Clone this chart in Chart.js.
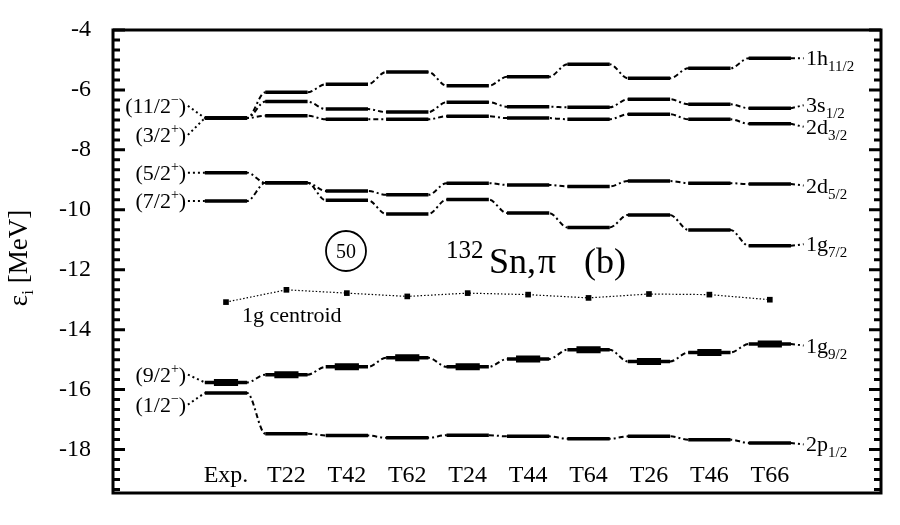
<!DOCTYPE html>
<html>
<head>
<meta charset="utf-8">
<script src="https://cdn.jsdelivr.net/npm/chart.js@4.4.0/dist/chart.umd.min.js"></script>
<style>
  body { margin: 0; background: #fff; }
  #wrap { width: 900px; height: 525px; }
</style>
</head>
<body>
<div id="wrap"><canvas id="levels"></canvas></div>
<script>
// single particle energies (MeV), one value per calculation
const categories = ['Exp.', 'T22', 'T42', 'T62', 'T24', 'T44', 'T64', 'T26', 'T46', 'T66'];
const h11 = [-6.94, -6.08, -5.81, -5.40, -5.86, -5.56, -5.14, -5.61, -5.28, -4.94];
const s1 = [-6.94, -6.39, -6.64, -6.74, -6.41, -6.56, -6.58, -6.31, -6.48, -6.61];
const d3 = [-6.94, -6.86, -6.98, -6.98, -6.88, -6.94, -6.98, -6.81, -6.98, -7.13];
const d5 = [-8.76, -9.10, -9.37, -9.50, -9.11, -9.17, -9.22, -9.04, -9.11, -9.14];
const g7 = [-9.71, -9.10, -9.68, -10.14, -9.66, -10.11, -10.59, -10.17, -10.67, -11.20];
const g9 = [-15.76, -15.50, -15.24, -14.94, -15.24, -14.98, -14.67, -15.06, -14.76, -14.48];
const p1 = [-16.11, -17.47, -17.53, -17.61, -17.52, -17.56, -17.64, -17.56, -17.67, -17.78];
const centroid = [-13.08, -12.67, -12.78, -12.89, -12.78, -12.83, -12.94, -12.81, -12.83, -13.00];
const yTicks = [-4, -6, -8, -10, -12, -14, -16, -18];

const serif = "'Liberation Serif', 'Times New Roman', serif";
const hw = 0.35;

// left (experimental) labels and right (orbital) labels
const leftLabels = [
  { t: '(11/2', s: '\u2212', v: h11[0], dy: 0.41 },
  { t: '(3/2', s: '+', v: d3[0], dy: -0.56 },
  { t: '(5/2', s: '+', v: d5[0], dy: 0 },
  { t: '(7/2', s: '+', v: g7[0], dy: 0 },
  { t: '(9/2', s: '+', v: g9[0], dy: 0.26 },
  { t: '(1/2', s: '\u2212', v: p1[0], dy: -0.39 }
];
const rightLabels = [
  { t: '1h', s: '11/2', vals: h11, dy: 0 },
  { t: '3s', s: '1/2', vals: s1, dy: 0.1 },
  { t: '2d', s: '3/2', vals: d3, dy: -0.1 },
  { t: '2d', s: '5/2', vals: d5, dy: -0.05 },
  { t: '1g', s: '7/2', vals: g7, dy: 0.05 },
  { t: '1g', s: '9/2', vals: g9, dy: -0.05 },
  { t: '2p', s: '1/2', vals: p1, dy: -0.05 }
];

function levelPts(vals, w) {
  const pts = [];
  vals.forEach((v, i) => {
    pts.push({ x: i - w, y: v }, { x: i + w, y: v }, { x: i + 0.5, y: null });
  });
  return pts;
}
function linkPts(vals) {
  const pts = [];
  vals.forEach((v, i) => { pts.push({ x: i - hw, y: v }, { x: i + hw, y: v }); });
  return pts;
}

const datasets = [];
[h11, s1, d3, d5, g7, g9, p1].forEach(vals => {
  datasets.push({
    data: linkPts(vals), borderColor: '#000', borderWidth: 2,
    borderDash: [5, 3, 2, 3], cubicInterpolationMode: 'monotone', pointRadius: 0
  });
  datasets.push({
    data: levelPts(vals, hw), borderColor: '#000', borderWidth: 3.5,
    spanGaps: false, pointRadius: 0, borderCapStyle: 'butt'
  });
});
// 1g9/2 drawn thicker in the middle
datasets.push({ data: levelPts(g9, 0.2), borderColor: '#000', borderWidth: 7, spanGaps: false, pointRadius: 0 });
// label connectors
leftLabels.forEach(l => {
  datasets.push({
    data: [{ x: -0.63, y: l.v + l.dy }, { x: -hw, y: l.v }],
    borderColor: '#000', borderWidth: 2, borderDash: [2, 3], pointRadius: 0
  });
});
rightLabels.forEach(l => {
  const last = l.vals[l.vals.length - 1];
  datasets.push({
    data: [{ x: 9 + hw, y: last }, { x: 9.56, y: last + l.dy }],
    borderColor: '#000', borderWidth: 2, borderDash: [4, 3, 2, 3], pointRadius: 0
  });
});
datasets.push({
  data: centroid.map((v, i) => ({ x: i, y: v })),
  borderColor: '#000', borderWidth: 1.2, borderDash: [1.5, 2],
  pointStyle: 'rect', pointRadius: 4, pointBackgroundColor: '#000', pointBorderWidth: 0
});

function rich(ctx, x, y, parts) {
  let cx = x;
  parts.forEach(p => {
    ctx.font = p[1] + 'px ' + serif;
    ctx.fillText(p[0], cx, y + (p[2] || 0));
    cx += ctx.measureText(p[0]).width;
  });
  return cx - x;
}
function richWidth(ctx, parts) {
  let w = 0;
  parts.forEach(p => { ctx.font = p[1] + 'px ' + serif; w += ctx.measureText(p[0]).width; });
  return w;
}

const decor = {
  id: 'decor',
  afterDraw(chart) {
    const ctx = chart.ctx, a = chart.chartArea;
    const xs = chart.scales.x, ys = chart.scales.y;
    ctx.save();
    ctx.strokeStyle = '#000';
    ctx.fillStyle = '#000';
    // frame
    ctx.lineWidth = 3;
    ctx.strokeRect(a.left, a.top, a.right - a.left, a.bottom - a.top);
    // inward ticks on both sides
    for (let k = 0; k <= 46; k++) {
      const v = -4 - k / 3;
      const py = ys.getPixelForValue(v);
      if (py > a.bottom - 1) break;
      const major = k % 6 === 0;
      const len = major ? 12 : 7;
      ctx.beginPath();
      ctx.moveTo(a.left, py); ctx.lineTo(a.left + len, py);
      ctx.moveTo(a.right, py); ctx.lineTo(a.right - len, py);
      ctx.stroke();
    }
    // category labels
    ctx.textBaseline = 'alphabetic';
    ctx.textAlign = 'center';
    ctx.font = '24px ' + serif;
    categories.forEach((c, i) => ctx.fillText(c, xs.getPixelForValue(i), 482));
    ctx.textAlign = 'left';
    // left labels
    leftLabels.forEach(l => {
      const parts = [[l.t, 22], [l.s, 14, -9], [')', 22]];
      const w = richWidth(ctx, parts);
      rich(ctx, xs.getPixelForValue(-0.66) - w, ys.getPixelForValue(l.v + l.dy) + 7, parts);
    });
    // right labels
    rightLabels.forEach(l => {
      const last = l.vals[l.vals.length - 1];
      rich(ctx, xs.getPixelForValue(9.6), ys.getPixelForValue(last + l.dy) + 7, [[l.t, 22], [l.s, 15, 6]]);
    });
    // annotations
    rich(ctx, 242, 322, [['1g centroid', 22]]);
    ctx.lineWidth = 1.8;
    ctx.beginPath();
    ctx.arc(346, 251, 20, 0, Math.PI * 2);
    ctx.stroke();
    ctx.textAlign = 'center';
    ctx.font = '20px ' + serif;
    ctx.fillText('50', 346, 258);
    ctx.textAlign = 'left';
    rich(ctx, 446, 258, [['132', 25]]);
    rich(ctx, 489, 273, [['Sn,', 36]]);
    rich(ctx, 538, 273, [['\u03c0', 36]]);
    rich(ctx, 584, 273, [['(b)', 36]]);
    // y title
    ctx.save();
    ctx.translate(27, 258);
    ctx.rotate(-Math.PI / 2);
    const tp = [['\u03b5', 27], ['i', 17, 6], [' [MeV]', 27]];
    rich(ctx, -richWidth(ctx, tp) / 2, 0, tp);
    ctx.restore();
    ctx.restore();
  }
};

new Chart(document.getElementById('levels'), {
  type: 'line',
  data: { datasets: datasets },
  options: {
    responsive: true,
    maintainAspectRatio: false,
    animation: false,
    layout: { padding: { left: 0, top: 30, right: 19, bottom: 32 } },
    plugins: { legend: { display: false }, tooltip: { enabled: false } },
    scales: {
      x: { type: 'linear', display: false, min: -1.87, max: 10.84 },
      y: {
        min: -19.45, max: -4,
        afterFit(scale) {
          scale.width = 113;
          scale.paddingTop = 0;
          scale.paddingBottom = 0;
        },
        afterBuildTicks(scale) { scale.ticks = yTicks.map(v => ({ value: v })); },
        grid: { display: false, drawTicks: false },
        border: { display: false },
        ticks: {
          padding: 22, color: '#000',
          font: { family: serif, size: 24 },
          callback: v => String(v)
        }
      }
    }
  },
  plugins: [decor]
});
</script>
</body>
</html>
